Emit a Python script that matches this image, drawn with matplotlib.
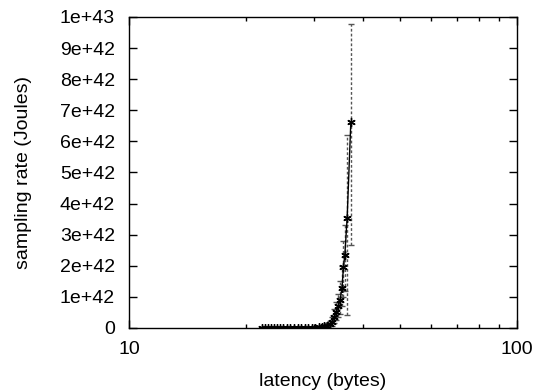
import matplotlib
matplotlib.use("Agg")
import matplotlib.pyplot as plt
from matplotlib.ticker import FixedLocator, NullFormatter

plt.rcParams['font.family'] = ['Liberation Sans', 'DejaVu Sans']

# data (y in units of 1e42)
x = [22.0, 22.4, 22.8, 23.2, 23.6, 24.0, 24.5, 25.0, 25.5, 26.0, 26.6, 27.2,
     27.8, 28.4, 29.0, 29.6, 30.2, 30.8, 31.4, 31.9, 32.4, 32.9, 33.4, 33.8,
     34.2, 34.6, 35.0, 35.4, 35.7, 36.0, 36.5, 37.3]
y = [0.0, 0.0, 0.0, 0.0, 0.0, 0.0, 0.0, 0.0, 0.0, 0.0, 0.0, 0.0,
     0.0, 0.0, 0.005, 0.01, 0.015, 0.02, 0.03, 0.05, 0.08, 0.12, 0.2, 0.35,
     0.5, 0.7, 0.9, 1.3, 1.95, 2.35, 3.55, 6.62]
y_lo = [0.0, 0.0, 0.0, 0.0, 0.0, 0.0, 0.0, 0.0, 0.0, 0.0, 0.0, 0.0,
        0.0, 0.0, 0.0, 0.0, 0.0, 0.0, 0.0, 0.0, 0.02, 0.05, 0.08, 0.15,
        0.25, 0.35, 0.45, 0.7, 1.0, 1.2, 0.42, 2.67]
y_hi = [0.01, 0.01, 0.01, 0.01, 0.01, 0.01, 0.01, 0.01, 0.01, 0.01, 0.01, 0.01,
        0.01, 0.01, 0.02, 0.03, 0.04, 0.05, 0.07, 0.1, 0.15, 0.22, 0.35, 0.6,
        0.85, 1.1, 1.5, 2.0, 2.8, 3.3, 6.2, 9.77]

scale = 1e42
ys = [v * scale for v in y]
err_lo = [(v - lo) * scale for v, lo in zip(y, y_lo)]
err_hi = [(hi - v) * scale for v, hi in zip(y, y_hi)]

fig = plt.figure(figsize=(5.44, 3.92), dpi=100)
ax = fig.add_axes([129/544, 1-328/392, (517-129)/544, (328-17)/392])

eb = ax.errorbar(x, ys, yerr=[err_lo, err_hi], fmt='none', ecolor='#555555',
                 elinewidth=1.0, capsize=2, capthick=1.0)
for c in eb[2]:
    c.set_linestyle((0, (2, 1.5)))
ax.plot(x, ys, color='black', linewidth=1.0, marker=(6, 2, 0),
        markersize=6, markeredgewidth=1.0)

ax.set_xscale('log')
ax.set_xlim(10, 100)
ax.set_ylim(0, 1e43)
ax.xaxis.set_major_locator(FixedLocator([10, 100]))
ax.set_xticklabels(['10', '100'])
ax.xaxis.set_minor_locator(FixedLocator([20, 30, 40, 50, 60, 70, 80, 90]))
ax.xaxis.set_minor_formatter(NullFormatter())
yt = [i * 1e42 for i in range(11)]
ax.set_yticks(yt)
ax.set_yticklabels(['0'] + [f'{i}e+42' for i in range(1, 10)] + ['1e+43'])

ax.tick_params(which='both', direction='in', top=True, right=True,
               labelsize=14, width=1.0)
ax.tick_params(which='major', length=6)
ax.tick_params(which='minor', length=3)
ax.tick_params(axis='x', pad=9)
ax.tick_params(axis='y', pad=10)
for s in ax.spines.values():
    s.set_linewidth(1.0)

ax.set_xlabel('latency (bytes)', fontsize=14, labelpad=11)
ax.set_ylabel('sampling rate (Joules)', fontsize=14, labelpad=20)

fig.savefig('out.png', dpi=100)
